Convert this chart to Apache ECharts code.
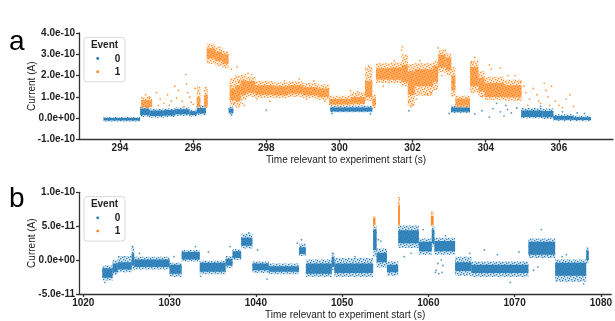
<!DOCTYPE html>
<html>
<head>
<meta charset="utf-8">
<script src="https://cdn.jsdelivr.net/npm/echarts@6/dist/echarts.min.js"></script>
<style>
html,body{margin:0;padding:0;background:#fff;}
#chart{width:615px;height:321px;}
</style>
</head>
<body>
<div id="chart"></div>
<script>
// ---------- DATA (time in s, current in pA; 100 pA = 1.0e-10 A) ----------
// Dense bands: [tStart, tEnd, outerLow, outerHigh, coreLow, coreHigh]
const bandsA_event0 = [
  [293.55, 294.55, -16, 6, -11, 1],
  [294.55, 294.80, 6, 55, 15, 45],
  [294.80, 295.20, 2, 44, 10, 36],
  [295.20, 295.50, 6, 46, 13, 38],
  [295.50, 295.90, 10, 50, 18, 42],
  [295.90, 296.10, 8, 40, 15, 33],
  [296.10, 296.35, 14, 61, 22, 48],
  [296.97, 297.10, 18, 55, 26, 46],
  [299.75, 300.90, 28, 58, 32, 50],
  [303.05, 303.57, 24, 58, 30, 50],
  [304.97, 305.55, 0, 48, 6, 36],
  [305.55, 305.85, -4, 45, 4, 34],
  [305.85, 306.40, -13, 18, -7, 10],
  [306.40, 306.88, -14, 12, -9, 5]
];
const bandsA_event1 = [
  [294.58, 294.88, 46, 100, 52, 85],
  [296.10, 296.20, 47, 150, 55, 100],
  [296.30, 296.40, 47, 150, 55, 110],
  [296.37, 296.60, 255, 350, 280, 328],
  [296.60, 296.80, 245, 335, 268, 312],
  [296.80, 296.97, 235, 315, 255, 300],
  [297.00, 297.15, 60, 190, 85, 140],
  [297.15, 297.30, 50, 200, 80, 155],
  [297.30, 297.45, 85, 205, 110, 178],
  [297.45, 297.70, 100, 195, 120, 175],
  [297.70, 298.20, 95, 175, 110, 155],
  [298.20, 298.60, 95, 168, 108, 150],
  [298.60, 299.00, 100, 172, 115, 155],
  [299.00, 299.40, 95, 165, 108, 145],
  [299.40, 299.72, 85, 158, 100, 140],
  [299.72, 300.30, 58, 105, 64, 90],
  [300.30, 300.70, 60, 122, 68, 100],
  [300.70, 300.90, 80, 240, 100, 175],
  [300.90, 301.00, 45, 110, 60, 92],
  [301.00, 301.40, 165, 258, 182, 235],
  [301.40, 301.70, 165, 262, 180, 238],
  [301.70, 301.87, 150, 300, 170, 250],
  [301.87, 302.06, 60, 255, 110, 220],
  [302.06, 302.56, 105, 258, 150, 230],
  [302.56, 302.70, 130, 270, 170, 245],
  [302.70, 302.90, 215, 320, 238, 298],
  [302.90, 303.06, 200, 305, 225, 285],
  [303.06, 303.17, 100, 240, 130, 200],
  [303.17, 303.57, 48, 105, 60, 92],
  [303.57, 303.80, 118, 270, 150, 240],
  [303.80, 303.97, 100, 220, 125, 190],
  [303.97, 304.50, 85, 195, 100, 165],
  [304.50, 304.98, 82, 180, 98, 155]
];
const bandsB_event0 = [
  [1022.2, 1023.4, -30, -8, -26, -12],
  [1023.4, 1024.0, -22, 0, -18, -5],
  [1024.0, 1025.6, -18, 6, -14, -3],
  [1025.6, 1025.9, -15, 20, -8, 10],
  [1025.9, 1030.0, -14, 5, -10, 1],
  [1030.0, 1031.4, -25, -4, -20, -7],
  [1031.4, 1033.5, -2, 15, 1, 12],
  [1033.5, 1036.5, -21, -1, -17, -4],
  [1036.5, 1037.3, -12, 6, -8, 2],
  [1037.3, 1038.3, 0, 16, 3, 13],
  [1038.3, 1039.6, 17, 39, 21, 33],
  [1039.6, 1041.5, -19, -2, -15, -5],
  [1041.5, 1045.0, -21, -5, -17, -9],
  [1045.0, 1045.8, 6, 24, 9, 19],
  [1045.8, 1048.8, -25, 1, -20, -5],
  [1048.8, 1049.1, -15, 10, -10, 5],
  [1049.1, 1053.6, -25, 3, -19, -5],
  [1053.6, 1054.0, 5, 50, 15, 45],
  [1054.0, 1055.2, -11, 17, -3, 11],
  [1055.2, 1056.5, -23, -2, -18, -7],
  [1056.5, 1058.9, 18, 51, 25, 44],
  [1058.9, 1060.4, 8, 32, 13, 27],
  [1060.4, 1060.7, 20, 50, 25, 45],
  [1060.7, 1063.1, 8, 33, 13, 28],
  [1063.1, 1065.0, -23, 5, -16, -3],
  [1065.0, 1071.6, -25, -2, -19, -7],
  [1071.6, 1074.7, 3, 32, 8, 27],
  [1074.7, 1078.3, -32, 1, -23, -4],
  [1078.3, 1078.6, -5, 19, 0, 14]
];
const bandsB_event1 = [
  [1053.6, 1053.85, 50, 65, 52, 62],
  [1056.5, 1056.7, 50, 93, 52, 80],
  [1060.3, 1060.6, 50, 72, 52, 65]
];
// Sparse individual points: [time, current pA]
const pointsA_event0 = [
  [298.0, 38], [303.7, 20], [303.9, 35], [304.1, 5], [304.2, 45], [304.4, 30], [304.5, 10],
  [304.6, 40], [304.7, 25], [304.85, 48], [299.8, 22], [300.85, 20], [301.9, 35], [303.0, 22],
  [305.5, 55], [306.1, 30], [306.5, 25], [306.7, 22], [304.3, 70], [304.55, 60], [297.05, 15]
];
const pointsA_event1 = [
  [294.7, 110], [294.8, 100], [295.0, 120], [295.05, 60], [295.1, 90], [295.2, 70], [295.3, 110],
  [295.35, 60], [295.4, 80], [295.5, 150], [295.55, 95], [295.6, 130], [295.7, 80], [295.75, 55],
  [295.8, 205], [295.82, 160], [295.85, 120], [295.9, 100], [295.95, 75], [296.0, 65], [296.05, 140],
  [297.02, 150], [297.05, 230], [297.1, 120], [297.2, 240], [297.25, 170], [297.35, 70], [297.5, 210],
  [297.6, 205], [297.12, 70], [297.4, 60], [297.75, 90], [298.1, 80], [298.5, 175], [298.9, 185],
  [299.3, 175], [299.6, 80], [299.1, 90], [300.3, 130], [300.5, 125], [300.0, 50], [300.8, 245],
  [301.2, 150], [301.5, 270], [301.7, 320], [301.72, 335], [301.9, 80], [301.95, 55], [302.0, 60],
  [302.1, 90], [302.4, 110], [302.2, 270], [302.5, 120], [302.7, 330], [302.9, 320], [302.8, 200],
  [303.1, 170], [303.7, 285], [303.6, 260], [303.9, 100], [304.1, 250], [304.15, 230], [304.4, 235],
  [304.6, 200], [304.8, 200], [304.95, 170], [304.9, 90], [305.05, 150], [305.1, 120], [305.2, 90],
  [305.3, 140], [305.4, 110], [305.5, 70], [305.6, 165], [305.65, 130], [305.7, 100], [305.8, 150],
  [305.9, 80], [306.0, 60], [306.2, 90], [306.3, 110], [306.4, 55], [305.15, 60], [305.45, 80],
  [305.75, 60], [306.1, 50]
];
const pointsB_event0 = [
  [1025.7, 20], [1033.0, 20], [1034.5, 12], [1039.2, 40], [1040.2, 15], [1044.8, 25], [1048.9, 10],
  [1051.5, 5], [1053.8, 30], [1054.2, 30], [1054.5, 28], [1059.4, 45], [1060.9, -15], [1061.2, -20],
  [1060.8, -18], [1061.1, -5], [1061.6, -18], [1061.7, -8], [1061.5, 0], [1064.8, 10], [1066.5, 15],
  [1068.0, 8], [1070.5, 12], [1073.1, 45], [1072.7, -10], [1076.0, 8], [1075.5, 5], [1069.5, -33],
  [1041.3, -28], [1033.6, -24], [1022.5, -33], [1078.0, -35], [1062.0, 36], [1058.0, 10],
  [1037.0, 20], [1030.5, 5], [1045.3, 30], [1026.5, 10], [1072.2, -15], [1057.2, 5]
];
const pointsB_event1 = [];
// Axis ticks
const ticksAx = [294, 296, 298, 300, 302, 304, 306];
const ticksBx = [1020, 1030, 1040, 1050, 1060, 1070, 1080];
const legendLabels = ['0', '1'];
const legendTitle = 'Event';
const xTitle = 'Time relevant to experiment start (s)';
const yTitle = 'Current (A)';

// ---------- CHART ----------
const C0 = '#1f77b4', C1 = '#ff7f0e';
const FONT = '"Liberation Sans", Arial, sans-serif';
const chart = echarts.init(document.getElementById('chart'), null, {renderer: 'canvas'});

function fmtA(v) {
  if (Math.abs(v) < 1e-9) return '0.0e+00';
  return (v * 1e-12).toExponential(1);
}
// stipple texture for the loose edges of the dense point clouds
function stipple(color, alpha) {
  const c = document.createElement('canvas');
  c.width = 6; c.height = 6;
  const g = c.getContext('2d');
  g.fillStyle = color; g.globalAlpha = alpha;
  [[0, 0], [3, 1], [1, 3], [4, 4], [2, 5], [5, 2]].forEach(d => g.fillRect(d[0], d[1], 1.3, 1.3));
  return {image: c, repeat: 'repeat'};
}
function bandRender(color, baseOp, coreOp) {
  const pat = stipple(color, 0.9);
  return function (params, api) {
    const o0 = api.coord([api.value(0), api.value(3)]);
    const o1 = api.coord([api.value(1), api.value(2)]);
    const c0 = api.coord([api.value(0), api.value(5)]);
    const c1 = api.coord([api.value(1), api.value(4)]);
    const outer = {x: o0[0], y: o0[1], width: o1[0] - o0[0], height: o1[1] - o0[1]};
    return {
      type: 'group',
      children: [
        {type: 'rect', shape: outer, style: {fill: color, opacity: baseOp}},
        {type: 'rect', shape: outer, style: {fill: pat}},
        {type: 'rect', shape: {x: c0[0], y: c0[1], width: c1[0] - c0[0], height: c1[1] - c0[1]},
         style: {fill: color, opacity: coreOp}}
      ]
    };
  };
}
function axisCommon() {
  return {
    axisLine: {show: true, onZero: false, lineStyle: {color: '#333', width: 1.3}},
    axisTick: {show: true, length: 3, lineStyle: {color: '#333', width: 1.3}},
    splitLine: {show: false},
    axisLabel: {color: '#222', fontWeight: 'bold', fontSize: 10, fontFamily: FONT, margin: 4},
    nameTextStyle: {color: '#222', fontSize: 10, fontFamily: FONT},
    nameMoveOverlap: false
  };
}
function xAxis(gi, min, max, ticks) {
  const a = axisCommon();
  return Object.assign(a, {
    type: 'value', gridIndex: gi, min: min, max: max,
    name: xTitle, nameLocation: 'middle', nameGap: 16,
    axisTick: Object.assign(a.axisTick, {customValues: ticks}),
    axisLabel: Object.assign(a.axisLabel, {customValues: ticks, formatter: v => String(Math.round(v))})
  });
}
function yAxis(gi, min, max, interval) {
  const a = axisCommon();
  return Object.assign(a, {
    type: 'value', gridIndex: gi, min: min, max: max, interval: interval,
    name: yTitle, nameLocation: 'middle', nameGap: 42,
    axisLabel: Object.assign(a.axisLabel, {formatter: fmtA})
  });
}
function bandSeries(data, gi, color, bOp, cOp) {
  return {
    type: 'custom', xAxisIndex: gi, yAxisIndex: gi, data: data,
    renderItem: bandRender(color, bOp, cOp), clip: true, silent: true,
    encode: {x: [0, 1], y: [2, 3]}
  };
}
function pointSeries(data, gi, color) {
  return {
    type: 'scatter', xAxisIndex: gi, yAxisIndex: gi, data: data,
    symbol: 'circle', symbolSize: 1.8, itemStyle: {color: color, opacity: 0.75}, silent: true
  };
}
function legendGraphic(top) {
  return [
    {type: 'rect', left: 83.5, top: top + 3.8, shape: {width: 41, height: 44.5, r: 3},
     style: {fill: 'rgba(255,255,255,0.85)', stroke: '#d9d9d9', lineWidth: 1}},
    {type: 'text', x: 104.5, y: top + 12.3, style: {text: legendTitle, fill: '#222', font: 'bold 10px ' + FONT,
     textAlign: 'center', textVerticalAlign: 'middle'}},
    {type: 'circle', shape: {cx: 97.7, cy: top + 25.5, r: 1.4}, style: {fill: C0}},
    {type: 'circle', shape: {cx: 97.7, cy: top + 38.8, r: 1.4}, style: {fill: C1}},
    {type: 'text', x: 117.5, y: top + 25.8, style: {text: legendLabels[0], fill: '#222', font: 'bold 10px ' + FONT,
     textAlign: 'center', textVerticalAlign: 'middle'}},
    {type: 'text', x: 117.5, y: top + 39.1, style: {text: legendLabels[1], fill: '#222', font: 'bold 10px ' + FONT,
     textAlign: 'center', textVerticalAlign: 'middle'}}
  ];
}
const gridTopA = 33, gridTopB = 192.3;
const option = {
  animation: false,
  backgroundColor: '#fff',
  grid: [
    {left: 79, right: 2, top: gridTopA, height: 106.5, containLabel: false},
    {left: 79, right: 2, top: gridTopB, height: 105.2, containLabel: false}
  ],
  xAxis: [xAxis(0, 292.88, 307.48, ticksAx), xAxis(1, 1019.5, 1081.2, ticksBx)],
  yAxis: [yAxis(0, -100, 400, 100), yAxis(1, -50, 100, 50)],
  series: [
    bandSeries(bandsA_event0, 0, C0, 0.2, 0.85),
    pointSeries(pointsA_event0, 0, C0),
    bandSeries(bandsA_event1, 0, C1, 0.15, 0.6),
    pointSeries(pointsA_event1, 0, C1),
    bandSeries(bandsB_event0, 1, C0, 0.2, 0.85),
    pointSeries(pointsB_event0, 1, C0),
    bandSeries(bandsB_event1, 1, C1, 0.3, 0.85),
    pointSeries(pointsB_event1, 1, C1)
  ],
  graphic: [
    {type: 'text', x: 9, y: 28, style: {text: 'a', fill: '#000', font: '28px ' + FONT, textVerticalAlign: 'alphabetic'}},
    {type: 'text', x: 9, y: 185, style: {text: 'b', fill: '#000', font: '28px ' + FONT, textVerticalAlign: 'alphabetic'}}
  ].concat(legendGraphic(gridTopA), legendGraphic(gridTopB))
};
chart.setOption(option);
</script>
</body>
</html>
